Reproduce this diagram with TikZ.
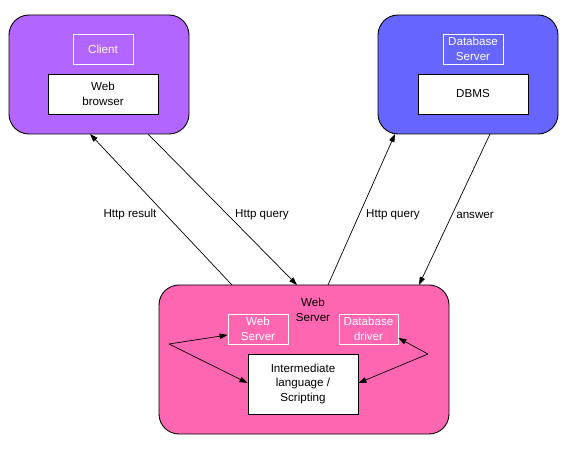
\documentclass[tikz,border=0pt]{standalone}
\usepackage{fontspec}
\setmainfont{Liberation Sans}
\usetikzlibrary{arrows.meta,calc}
\definecolor{clientc}{RGB}{178,102,255}
\definecolor{dbc}{RGB}{102,102,255}
\definecolor{wsc}{RGB}{255,102,178}
\tikzset{
  every node/.style={font=\fontsize{11.6}{14.8}\selectfont, inner sep=0pt, align=center},
  outerbox/.style={draw=black, line width=0.9pt, rounded corners=20pt},
  labelbox/.style={draw=white, line width=0.8pt, text=white},
  whitebox/.style={draw=black, fill=white, line width=0.9pt},
  arr/.style={line width=0.7pt, -{Triangle[length=8pt,width=5.5pt]}},
}
\begin{document}
\begin{tikzpicture}[x=1pt,y=-1pt]
\useasboundingbox (0,0) rectangle (584,454);
% Client
\node[outerbox, fill=clientc, minimum width=180pt, minimum height=119pt] (client) at (99,74.5) {};
\node[labelbox, minimum width=60pt, minimum height=30pt] (clientlbl) at (103,49) {Client};
\node[whitebox, minimum width=110pt, minimum height=40pt] (browser) at (103,94) {Web\\browser};
% Database server
\node[outerbox, fill=dbc, minimum width=180pt, minimum height=119pt] (db) at (468,74.5) {};
\node[labelbox, minimum width=60pt, minimum height=30pt] (dblbl) at (473,49) {Database\\Server};
\node[whitebox, minimum width=110pt, minimum height=40pt] (dbms) at (473,94) {DBMS};
% Web server
\node[outerbox, fill=wsc, minimum width=290pt, minimum height=149pt] (ws) at (304,359.5) {};
\node (wstitle) at (313,309.5) {Web\\Server};
\node[labelbox, minimum width=60pt, minimum height=30pt] (wssub) at (258,329) {Web\\Server};
\node[labelbox, minimum width=59pt, minimum height=30pt] (driver) at (368.5,329) {Database\\driver};
\node[whitebox, minimum width=110pt, minimum height=60pt] (inter) at (303,384) {Intermediate\\language /\\Scripting};
% internal connectors
\coordinate (lp) at (169,344);
\coordinate (rp) at (428,354);
\draw[arr] (lp) -- (wssub.west |- 0,335);
\draw[arr] (lp) -- (inter.west |- 0,383);
\draw[arr] (rp) -- (driver.east |- 0,338);
\draw[arr] (rp) -- (inter.east |- 0,383);
% top connectors
\coordinate (a1s) at (232,285);
\coordinate (a1e) at (90,134);
\coordinate (a2s) at (148,134);
\coordinate (a2e) at (297,285);
\coordinate (a3s) at (328,285);
\coordinate (a3e) at (395,134);
\coordinate (a4s) at (490,134);
\coordinate (a4e) at (419,285);
\draw[arr] (a1s) -- (a1e);
\draw[arr] (a2s) -- (a2e);
\draw[arr] (a3s) -- (a3e);
\draw[arr] (a4s) -- (a4e);
\node (l1) at (130,215) {Http result};
\node (l2) at (262,215) {Http query};
\node (l3) at (393,215) {Http query};
\node (l4) at (475,215) {answer};
\end{tikzpicture}
\end{document}
